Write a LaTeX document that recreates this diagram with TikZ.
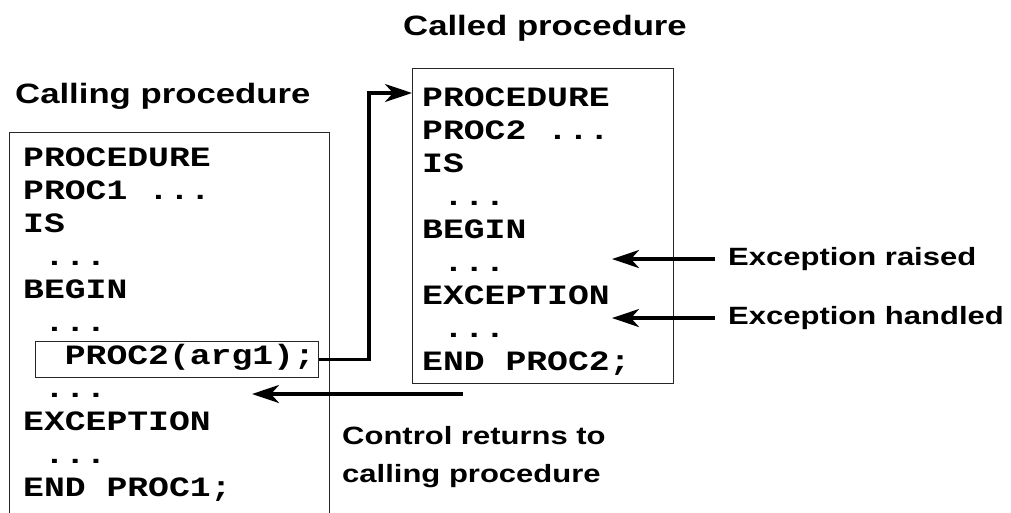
\documentclass[tikz,border=0pt]{standalone}
\usepackage{fontspec}
\newfontfamily\codefont[FakeStretch=1.24]{Liberation Mono}
\newfontfamily\notefont[FakeStretch=1.24]{Liberation Sans}
\usetikzlibrary{arrows.meta, positioning}

\begin{document}
\begin{tikzpicture}[
  x=1pt, y=-1pt,
  frame/.style={
    draw=black!85,
    line width=1pt,
    inner sep=0pt,
    anchor=north west
  },
  code/.style={
    font={\codefont\bfseries\fontsize{28pt}{33pt}\selectfont},
    align=left,
    anchor=base west,
    inner sep=0pt
  },
  title/.style={
    font={\notefont\bfseries\fontsize{28pt}{34pt}\selectfont},
    anchor=base west,
    inner sep=0pt
  },
  note/.style={
    font={\notefont\bfseries\fontsize{25pt}{37.5pt}\selectfont},
    align=left,
    anchor=base west,
    inner sep=0pt
  },
  flow/.style={
    -{Stealth[length=27pt, width=18pt, inset=8pt]},
    line width=3.4pt
  }
]
\useasboundingbox (0,0) rectangle (1011,512);

% Titles
\node[title] (callingtitle) at (15,103) {Calling procedure};
\node[title] (calledtitle) at (403,35) {Called procedure};

% Calling procedure box (last line sits on the given baseline)
\node[frame, minimum width=320pt, minimum height=400pt] (caller) at (9,132) {};
\node[code] (callercode) at (23,496)
{PROCEDURE\\
PROC1 ...\\
IS\\
\ ...\\
BEGIN\\
\ ...\\
\ \ PROC2(arg1);\\
\ ...\\
EXCEPTION\\
\ ...\\
END PROC1;};

% Call site box
\node[frame, minimum width=283pt, minimum height=36pt] (callsite) at (35,341) {};

% Called procedure box
\node[frame, minimum width=261pt, minimum height=315pt] (callee) at (412,68) {};
\node[code] (calleecode) at (422,370)
{PROCEDURE\\
PROC2 ...\\
IS\\
\ ...\\
BEGIN\\
\ ...\\
EXCEPTION\\
\ ...\\
END PROC2;};

% Side labels
\node[note, inner xsep=13pt] (raised) at (715,265.5) {Exception raised};
\node[note, inner xsep=13pt] (handled) at (715,324.5) {Exception handled};
\node[note] (returns) at (342,482) {Control returns to\\calling procedure};

% Arrow ends
\coordinate (callbend) at (369,93);
\coordinate (tipx) at (612,0);
\coordinate (retstart) at (463,394);
\coordinate (retend) at (252,394);

% Arrows
\draw[flow] (callsite.east) -| (callbend) -- (callbend -| callee.west);
\draw[flow] (raised.west) -- (raised.west -| tipx);
\draw[flow] (handled.west) -- (handled.west -| tipx);
\draw[flow] (retstart) -- (retend);

\end{tikzpicture}
\end{document}
